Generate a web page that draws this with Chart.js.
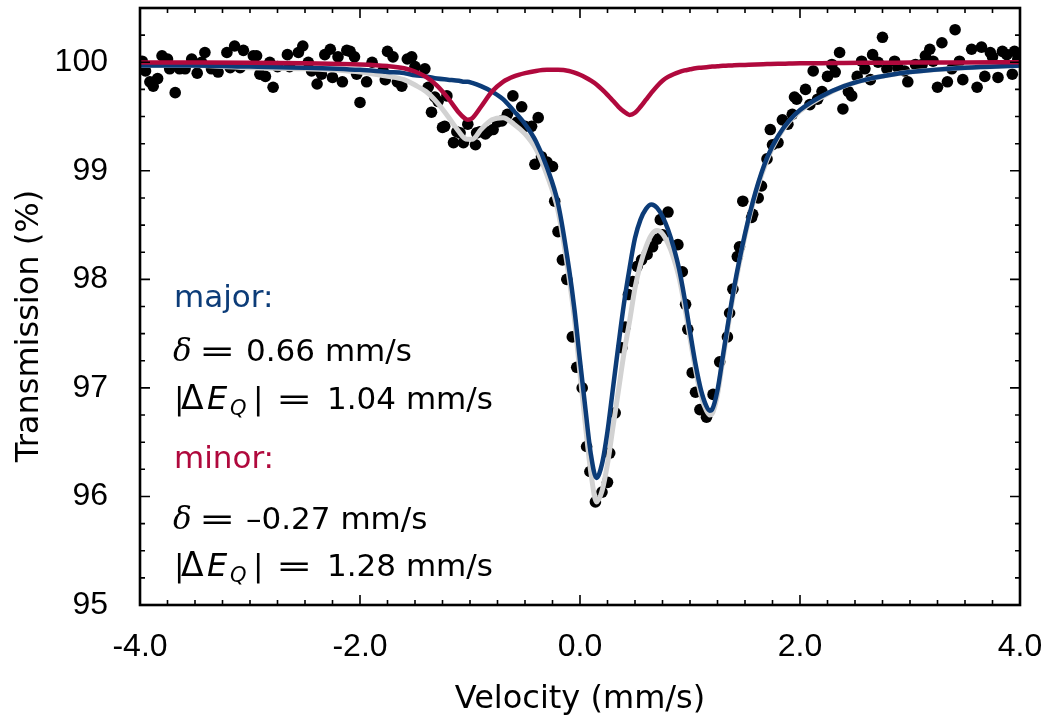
<!DOCTYPE html>
<html><head><meta charset="utf-8">
<script src="https://cdn.jsdelivr.net/npm/chart.js@4/dist/chart.umd.min.js"></script>
<style>html,body{margin:0;padding:0;background:#fff}#wrap{width:1050px;height:727px}</style>
</head><body><div id="wrap"><canvas id="c" width="1050" height="727"></canvas></div>
<script>
// ---- measured data points (velocity mm/s, transmission %) ----
const ptX = [-3.98,-3.95,-3.91,-3.88,-3.84,-3.80,-3.75,-3.73,-3.68,-3.64,-3.59,-3.53,-3.48,-3.44,-3.41,-3.35,-3.29,-3.21,-3.18,-3.14,
 -3.09,-3.06,-2.97,-2.94,-2.91,-2.86,-2.82,-2.79,-2.75,-2.66,-2.64,-2.56,-2.52,-2.47,-2.44,-2.39,-2.35,-2.32,-2.27,-2.25,
 -2.20,-2.16,-2.12,-2.09,-2.05,-2.03,-2.00,-1.94,-1.89,-1.79,-1.77,-1.75,-1.70,-1.66,-1.62,-1.57,-1.53,-1.50,-1.41,-1.38,
 -1.35,-1.32,-1.29,-1.25,-1.23,-1.21,-1.15,-1.12,-1.09,-1.06,-1.02,-0.95,-0.94,-0.91,-0.86,-0.84,-0.79,-0.75,-0.71,-0.66,
 -0.61,-0.57,-0.53,-0.50,-0.44,-0.41,-0.38,-0.35,-0.30,-0.25,-0.23,-0.20,-0.16,-0.12,-0.07,-0.03,0.02,0.06,0.09,0.14,
 0.20,0.25,0.27,0.32,0.38,0.41,0.44,0.48,0.52,0.56,0.61,0.66,0.70,0.73,0.75,0.80,0.89,0.93,0.96,0.98,
 1.02,1.05,1.09,1.15,1.21,1.27,1.34,1.36,1.39,1.43,1.45,1.48,1.56,1.57,1.62,1.65,1.70,1.73,1.75,1.80,
 1.84,1.89,1.93,1.95,1.97,2.05,2.09,2.12,2.16,2.20,2.25,2.29,2.32,2.36,2.39,2.44,2.47,2.52,2.56,2.59,
 2.64,2.66,2.71,2.75,2.79,2.86,2.89,2.95,2.98,3.05,3.11,3.14,3.18,3.21,3.25,3.29,3.34,3.38,3.41,3.45,
 3.48,3.56,3.61,3.65,3.68,3.73,3.75,3.80,3.84,3.88,3.93,3.95,3.98];
const ptY = [100.01,99.92,99.82,99.78,99.85,100.06,100.03,99.94,99.72,99.94,99.94,100.03,99.90,100.00,100.09,99.94,99.91,100.09,99.95,100.15,
 99.95,100.11,100.06,100.06,99.89,99.87,100.00,99.77,99.96,100.07,99.96,100.09,100.15,100.00,99.92,99.80,99.89,100.07,100.12,99.86,
 100.05,99.82,100.11,100.10,100.05,99.89,99.63,99.82,100.00,99.92,99.84,100.10,100.05,99.82,99.78,100.03,100.05,99.96,99.94,99.77,
 99.54,99.68,99.64,99.40,99.41,99.69,99.26,99.36,99.35,99.26,99.43,99.24,99.35,99.36,99.34,99.36,99.38,99.45,99.46,99.52,
 99.69,99.45,99.59,99.41,99.41,99.06,99.49,99.13,99.08,99.04,98.72,98.44,98.18,98.00,97.47,97.19,97.00,96.46,96.23,95.95,
 96.04,96.13,96.40,96.77,97.37,97.56,97.86,97.98,98.12,98.18,98.23,98.30,98.37,98.55,98.41,98.62,98.32,98.07,97.77,97.54,
 97.14,96.96,96.80,96.73,96.94,97.24,97.47,97.69,97.91,98.21,98.30,98.72,98.57,98.60,98.75,98.86,99.11,99.38,99.24,99.26,
 99.47,99.43,99.52,99.68,99.66,99.75,99.61,99.92,99.66,99.73,99.87,99.98,99.91,100.09,99.57,99.73,99.69,99.87,100.01,99.94,
 99.84,100.07,100.00,100.23,99.94,100.01,99.95,99.92,99.82,99.98,99.98,100.06,100.12,100.01,99.77,100.18,99.82,99.94,100.30,100.01,
 99.84,100.12,99.77,100.14,99.87,100.09,100.05,99.86,100.10,100.07,99.89,100.10,100.03];

// ---- fitted curves at these velocities ----
const fitX = [-4.0,-3.5,-3.0,-2.5,-2.0,
 -1.75,-1.6,-1.5,-1.4,-1.3,
 -1.2,-1.1,-1.05,-1.02,-0.98,
 -0.9,-0.8,-0.7,-0.6,-0.5,
 -0.4,-0.3,-0.2,-0.1,-0.05,
 0.0,0.05,0.1,0.15,0.2,
 0.25,0.3,0.35,0.4,0.45,
 0.5,0.55,0.6,0.65,0.7,
 0.75,0.8,0.85,0.9,0.95,
 1.0,1.05,1.1,1.15,1.18,
 1.2,1.25,1.3,1.35,1.4,
 1.5,1.6,1.7,1.8,1.9,
 2.0,2.2,2.4,2.6,2.8,
 3.0,3.5,4.0];
const majorFit = [99.97,99.97,99.96,99.95,99.93,
 99.91,99.90,99.88,99.87,99.85,
 99.84,99.83,99.82,99.82,99.81,
 99.78,99.73,99.66,99.55,99.43,
 99.27,99.03,98.70,98.10,97.72,
 97.25,96.80,96.38,96.17,96.30,
 96.60,97.00,97.40,97.78,98.10,
 98.38,98.55,98.65,98.69,98.66,
 98.58,98.46,98.30,98.10,97.83,
 97.52,97.22,96.98,96.83,96.79,
 96.80,96.98,97.30,97.62,97.92,
 98.42,98.82,99.12,99.32,99.46,
 99.56,99.69,99.78,99.84,99.88,
 99.91,99.95,99.97];
const minorFit = [99.998,99.997,99.995,99.99,99.98,
 99.965,99.945,99.915,99.865,99.785,
 99.67,99.535,99.485,99.47,99.485,
 99.59,99.73,99.82,99.87,99.90,
 99.92,99.93,99.93,99.92,99.905,
 99.885,99.86,99.83,99.795,99.75,
 99.70,99.645,99.59,99.545,99.515,
 99.535,99.59,99.655,99.72,99.78,
 99.83,99.865,99.89,99.91,99.925,
 99.935,99.945,99.95,99.955,99.958,
 99.96,99.963,99.967,99.97,99.972,
 99.976,99.98,99.983,99.986,99.988,
 99.99,99.992,99.994,99.995,99.996,
 99.997,99.998,100.0];
const totalFit = [99.97,99.97,99.95,99.94,99.91,
 99.87,99.84,99.79,99.73,99.63,
 99.50,99.36,99.30,99.29,99.29,
 99.38,99.47,99.49,99.43,99.34,
 99.20,98.96,98.63,98.02,97.63,
 97.13,96.65,96.21,95.95,96.05,
 96.30,96.64,96.98,97.32,97.61,
 97.92,98.14,98.30,98.41,98.45,
 98.42,98.33,98.20,98.02,97.76,
 97.46,97.17,96.93,96.79,96.75,
 96.76,96.94,97.27,97.59,97.89,
 98.40,98.80,99.10,99.31,99.45,
 99.55,99.68,99.78,99.84,99.88,
 99.91,99.95,99.97];

// ---- axes ----
const xRange = [-4, 4];
const yRange = [95, 100.5];
const xMajorTicks = [-4, -2, 0, 2, 4];
const yMajorTicks = [95, 96, 97, 98, 99, 100];
const minorStep = 0.25;
const xTitle = 'Velocity (mm/s)';
const yTitle = 'Transmission (%)';

const BLUE = '#0c3c78', RED = '#b0093d', GRAY = '#d2d2d2';
const SANS = '"DejaVu Sans", sans-serif';

const pairs = (xs, ys) => xs.map((x, i) => ({x, y: ys[i]}));

const framePlugin = {
  id: 'frame',
  afterDatasetsDraw(chart) {
    const {ctx, chartArea: a, scales: {x, y}} = chart;
    ctx.save();
    ctx.strokeStyle = '#000';
    ctx.lineWidth = 1.6;
    const drawX = (v, len) => {
      const p = x.getPixelForValue(v);
      ctx.beginPath(); ctx.moveTo(p, a.bottom); ctx.lineTo(p, a.bottom - len);
      ctx.moveTo(p, a.top); ctx.lineTo(p, a.top + len); ctx.stroke();
    };
    const drawY = (v, len) => {
      const p = y.getPixelForValue(v);
      ctx.beginPath(); ctx.moveTo(a.left, p); ctx.lineTo(a.left + len, p);
      ctx.moveTo(a.right, p); ctx.lineTo(a.right - len, p); ctx.stroke();
    };
    for (let v = xRange[0]; v <= xRange[1] + 1e-9; v += minorStep) {
      drawX(v, xMajorTicks.some(t => Math.abs(t - v) < 1e-9) ? 10 : 5);
    }
    for (let v = yRange[0]; v <= yRange[1] + 1e-9; v += minorStep) {
      drawY(v, yMajorTicks.some(t => Math.abs(t - v) < 1e-9) ? 10 : 5);
    }
    ctx.lineWidth = 2.6;
    ctx.strokeRect(a.left, a.top, a.right - a.left, a.bottom - a.top);
    ctx.restore();
  },
  afterDraw(chart) {
    const {ctx, chartArea: a} = chart;
    ctx.save();
    ctx.fillStyle = '#000';
    ctx.textAlign = 'center';
    ctx.textBaseline = 'alphabetic';
    ctx.font = '32px ' + SANS;
    ctx.fillText(xTitle, (a.left + a.right) / 2, 708);
    ctx.translate(38, 326);
    ctx.rotate(-Math.PI / 2);
    ctx.fillText(yTitle, 0, 0);
    ctx.restore();

    // annotation block
    ctx.save();
    ctx.textAlign = 'left';
    ctx.textBaseline = 'alphabetic';
    const N = '31px ' + SANS, I = 'italic 32px ' + SANS, M = 'italic 31px "DejaVu Serif", serif', S = 'italic 21px ' + SANS;
    const lines = [
      {y: 307, runs: [{t: 'major:', x: 174, f: N, c: BLUE}]},
      {y: 361, runs: [{t: 'δ', x: 173, f: M}, {t: '=', x: 199, f: N, sx: 1.4}, {t: '0.66 mm/s', x: 246, f: N}]},
      {y: 409, runs: [{t: '|', x: 174, f: N}, {t: 'Δ', x: 181, f: '33px ' + SANS}, {t: 'E', x: 207, f: I}, {t: 'Q', x: 230, f: S, dy: 6}, {t: '|', x: 253, f: N}, {t: '=', x: 276, f: N, sx: 1.4}, {t: '1.04 mm/s', x: 327, f: N}]},
      {y: 468, runs: [{t: 'minor:', x: 174, f: N, c: RED}]},
      {y: 529, runs: [{t: 'δ', x: 173, f: M}, {t: '=', x: 199, f: N, sx: 1.4}, {t: '–0.27 mm/s', x: 246, f: N}]},
      {y: 576, runs: [{t: '|', x: 174, f: N}, {t: 'Δ', x: 181, f: '33px ' + SANS}, {t: 'E', x: 207, f: I}, {t: 'Q', x: 230, f: S, dy: 6}, {t: '|', x: 253, f: N}, {t: '=', x: 276, f: N, sx: 1.4}, {t: '1.28 mm/s', x: 327, f: N}]}
    ];
    for (const ln of lines) {
      for (const r of ln.runs) {
        ctx.font = r.f;
        ctx.fillStyle = r.c || '#000';
        if (r.sx) {
          ctx.save();
          ctx.translate(r.x, ln.y);
          ctx.scale(r.sx, 1);
          ctx.fillText(r.t, 0, 0);
          ctx.restore();
        } else {
          ctx.fillText(r.t, r.x, ln.y + (r.dy || 0));
        }
      }
    }
    ctx.restore();
  }
};

new Chart(document.getElementById('c'), {
  type: 'scatter',
  data: {
    datasets: [
      {label: 'minor', data: pairs(fitX, minorFit), showLine: true, pointRadius: 0, borderColor: RED, borderWidth: 4.5, cubicInterpolationMode: 'monotone', fill: false},
      {label: 'major', data: pairs(fitX, majorFit), showLine: true, pointRadius: 0, borderColor: BLUE, borderWidth: 4.5, cubicInterpolationMode: 'monotone', fill: false},
      {label: 'total', data: pairs(fitX, totalFit), showLine: true, pointRadius: 0, borderColor: GRAY, borderWidth: 5, cubicInterpolationMode: 'monotone', fill: false},
      {label: 'data', data: pairs(ptX, ptY), showLine: false, pointRadius: 5.8, pointBackgroundColor: '#000', pointBorderWidth: 0, borderColor: '#000'}
    ]
  },
  options: {
    responsive: false,
    animation: false,
    events: [],
    devicePixelRatio: 1,
    layout: {padding: {left: 0, right: 30, top: 8, bottom: 0}, autoPadding: false},
    plugins: {legend: {display: false}, tooltip: {enabled: false}},
    scales: {
      x: {
        type: 'linear', min: xRange[0], max: xRange[1],
        grid: {display: false}, border: {display: false},
        ticks: {stepSize: 2, padding: 15, color: '#000', font: {family: '"Liberation Sans", sans-serif', size: 32},
          callback: v => xMajorTicks.includes(v) ? v.toFixed(1) : ''},
        afterFit: s => { s.height = 122; s.paddingLeft = 0; s.paddingRight = 0; }
      },
      y: {
        type: 'linear', min: yRange[0], max: yRange[1],
        grid: {display: false}, border: {display: false},
        ticks: {stepSize: 1, includeBounds: false, padding: 24, color: '#000', font: {family: '"Liberation Sans", sans-serif', size: 32},
          callback: v => yMajorTicks.includes(v) ? String(v) : ''},
        afterFit: s => { s.width = 140; s.paddingTop = 0; s.paddingBottom = 0; }
      }
    }
  },
  plugins: [framePlugin]
});
</script></body></html>
